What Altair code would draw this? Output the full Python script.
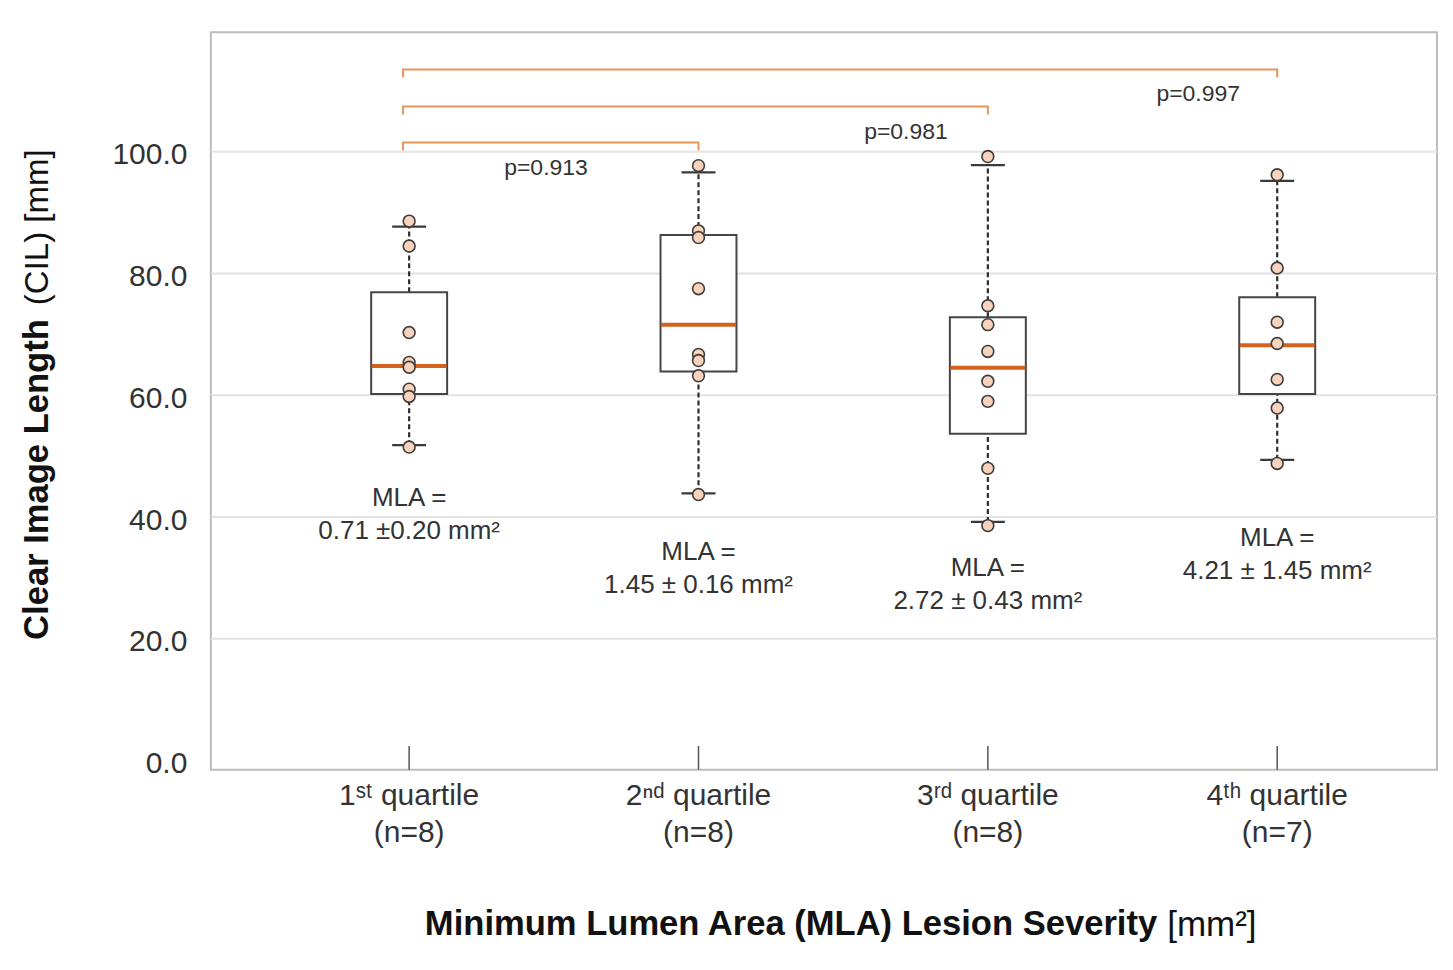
import altair as alt
import pandas as pd

# ---------------- data ----------------
groups = [1, 2, 3, 4]
tick_labels = ["1ˢᵗ quartile", "2ⁿᵈ quartile", "3ʳᵈ quartile", "4ᵗʰ quartile"]
n_labels = ["(n=8)", "(n=8)", "(n=8)", "(n=7)"]

q1 = [60.2, 63.9, 53.7, 60.2]
medians = [64.8, 71.6, 64.5, 68.2]
q3 = [76.9, 86.3, 72.8, 76.1]
whisker_low = [51.8, 43.9, 39.2, 49.4]
whisker_high = [87.7, 96.6, 97.8, 95.2]

points_g1 = [88.6, 84.5, 70.3, 65.4, 64.6, 61.0, 59.8, 51.5]
points_g2 = [97.7, 87.0, 85.9, 77.5, 66.7, 65.7, 63.2, 43.7]
points_g3 = [99.2, 74.7, 71.6, 67.2, 62.3, 59.0, 48.0, 38.6]
points_g4 = [96.2, 80.9, 72.0, 68.5, 62.6, 57.9, 48.8]

mla_line1 = ["MLA =", "MLA =", "MLA =", "MLA ="]
mla_line2 = ["0.71 ±0.20 mm²", "1.45 ± 0.16 mm²", "2.72 ± 0.43 mm²", "4.21 ± 1.45 mm²"]
mla_y = [43.1, 34.2, 31.6, 36.5]

bracket_start = 0.979
bracket_end = [2, 3, 4]
bracket_y = [101.5, 107.4, 113.5]
bracket_drop = 1.3
p_labels = ["p=0.913", "p=0.981", "p=0.997"]
p_x = [1.473, 2.717, 3.727]

y_ticks = [0, 20, 40, 60, 80, 100]
grid_values = [20, 40, 60, 80, 100]

# ---------------- tables ----------------
stats = pd.DataFrame({"g": groups, "q1": q1, "med": medians, "q3": q3,
                      "lo": whisker_low, "hi": whisker_high,
                      "lab": tick_labels, "n": n_labels,
                      "m1": mla_line1, "m2": mla_line2, "my": mla_y})

pts = pd.DataFrame({
    "g": [1] * len(points_g1) + [2] * len(points_g2) + [3] * len(points_g3) + [4] * len(points_g4),
    "v": points_g1 + points_g2 + points_g3 + points_g4,
})

rows = []
for i, (e, by) in enumerate(zip(bracket_end, bracket_y)):
    rows += [
        {"b": i, "o": 0, "x": bracket_start, "y": by - bracket_drop},
        {"b": i, "o": 1, "x": bracket_start, "y": by},
        {"b": i, "o": 2, "x": e, "y": by},
        {"b": i, "o": 3, "x": e, "y": by - bracket_drop},
    ]
brackets = pd.DataFrame(rows)
plabs = pd.DataFrame({"x": p_x, "y": bracket_y, "t": p_labels})
grid = pd.DataFrame({"v": grid_values})

FONT = "Liberation Sans"
W, H = 1227, 738
xs = alt.Scale(domain=[0.332, 4.535], nice=False, zero=False)
ys = alt.Scale(domain=[-1.5, 119.6], nice=False, zero=False)
yaxis = alt.Axis(values=y_ticks, format=".1f", grid=False, ticks=False, tickSize=0,
                 domain=False, labelFontSize=30, labelPadding=24, labelColor="#333333",
                 labelFont=FONT, labelOffset=3, title=None)


def X(f):
    return alt.X(f, type="quantitative", scale=xs, axis=None)


def Y(f):
    return alt.Y(f, type="quantitative", scale=ys, axis=yaxis)


grid_layer = alt.Chart(grid).mark_rule(color="#e3e3e3", strokeWidth=2).encode(y=Y("v"))

xticks = alt.Chart(stats).mark_rule(color="#555555", strokeWidth=1.5).encode(
    x=X("g"), y=alt.datum(-1.5, scale=ys, axis=yaxis), y2=alt.datum(2.4)
)

whisk_up = alt.Chart(stats).mark_rule(color="#2e2e2e", strokeWidth=2.2, strokeDash=[5, 3]).encode(
    x=X("g"), y=Y("q3"), y2="hi"
)
whisk_dn = alt.Chart(stats).mark_rule(color="#2e2e2e", strokeWidth=2.2, strokeDash=[5, 3]).encode(
    x=X("g"), y=Y("lo"), y2="q1"
)
box = alt.Chart(stats).mark_bar(size=76, fill="white", stroke="#454545", strokeWidth=2,
                                opacity=1).encode(
    x=X("g"), y=Y("q1"), y2="q3"
)
med = alt.Chart(stats).mark_tick(orient="horizontal", size=75, thickness=4, color="#d4611c",
                                 opacity=1).encode(x=X("g"), y=Y("med"))
cap_hi = alt.Chart(stats).mark_tick(orient="horizontal", size=34, thickness=2.2, color="#3a3a3a",
                                    opacity=1).encode(x=X("g"), y=Y("hi"))
cap_lo = alt.Chart(stats).mark_tick(orient="horizontal", size=34, thickness=2.2, color="#3a3a3a",
                                    opacity=1).encode(x=X("g"), y=Y("lo"))
dots = alt.Chart(pts).mark_circle(size=140, fill="#f8d2bb", stroke="#3c3c3c", strokeWidth=1.6,
                                  opacity=1).encode(x=X("g"), y=Y("v"))

br = alt.Chart(brackets).mark_line(color="#e8955c", strokeWidth=2).encode(
    x=X("x"), y=Y("y"), detail="b:N", order="o:Q"
)
ptext = alt.Chart(plabs).mark_text(font=FONT, fontSize=23, color="#333333", baseline="middle",
                                   dy=25).encode(x=X("x"), y=Y("y"), text="t:N")

mla1 = alt.Chart(stats).mark_text(font=FONT, fontSize=26, color="#333333", baseline="middle").encode(
    x=X("g"), y=Y("my"), text="m1:N")
mla2 = alt.Chart(stats).mark_text(font=FONT, fontSize=26, color="#333333", baseline="middle",
                                  dy=33).encode(x=X("g"), y=Y("my"), text="m2:N")

lab1 = alt.Chart(stats).mark_text(font=FONT, fontSize=30, color="#333333", baseline="middle").encode(
    x=X("g"), y=alt.value(764), text="lab:N")
lab2 = alt.Chart(stats).mark_text(font=FONT, fontSize=30, color="#333333", baseline="middle").encode(
    x=X("g"), y=alt.value(801), text="n:N")

title_df = pd.DataFrame({"bold": ["Minimum Lumen Area (MLA) Lesion Severity"], "unit": ["[mm²]"],
                         "ybold": ["Clear Image Length"], "yunit": ["(CIL) [mm]"]})
xt1 = alt.Chart(title_df).mark_text(font=FONT, fontSize=34.6, fontWeight="bold", color="#111111",
                                    align="right", baseline="middle").encode(
    x=alt.value(947), y=alt.value(893), text="bold:N")
xt2 = alt.Chart(title_df).mark_text(font=FONT, fontSize=35, color="#111111",
                                    align="left", baseline="middle").encode(
    x=alt.value(957), y=alt.value(893), text="unit:N")
yt1 = alt.Chart(title_df).mark_text(font=FONT, fontSize=34.6, fontWeight="bold", color="#111111",
                                    align="left", baseline="middle", angle=270).encode(
    x=alt.value(-173), y=alt.value(608), text="ybold:N")
yt2 = alt.Chart(title_df).mark_text(font=FONT, fontSize=33, color="#111111",
                                    align="left", baseline="middle", angle=270).encode(
    x=alt.value(-173), y=alt.value(273), text="yunit:N")

chart = alt.layer(
    grid_layer, xticks, whisk_up, whisk_dn, box, med, cap_hi, cap_lo, dots, br, ptext,
    mla1, mla2, lab1, lab2, xt1, xt2, yt1, yt2
).properties(
    width=W, height=H,
    autosize=alt.AutoSizeParams(type="none"),
    padding={"left": 203, "top": 24, "right": 8, "bottom": 192},
    background="white",
).configure_view(stroke="#bcbcbc", strokeWidth=2)

chart.save("out.html", embed_options={"renderer": "svg", "actions": False})
